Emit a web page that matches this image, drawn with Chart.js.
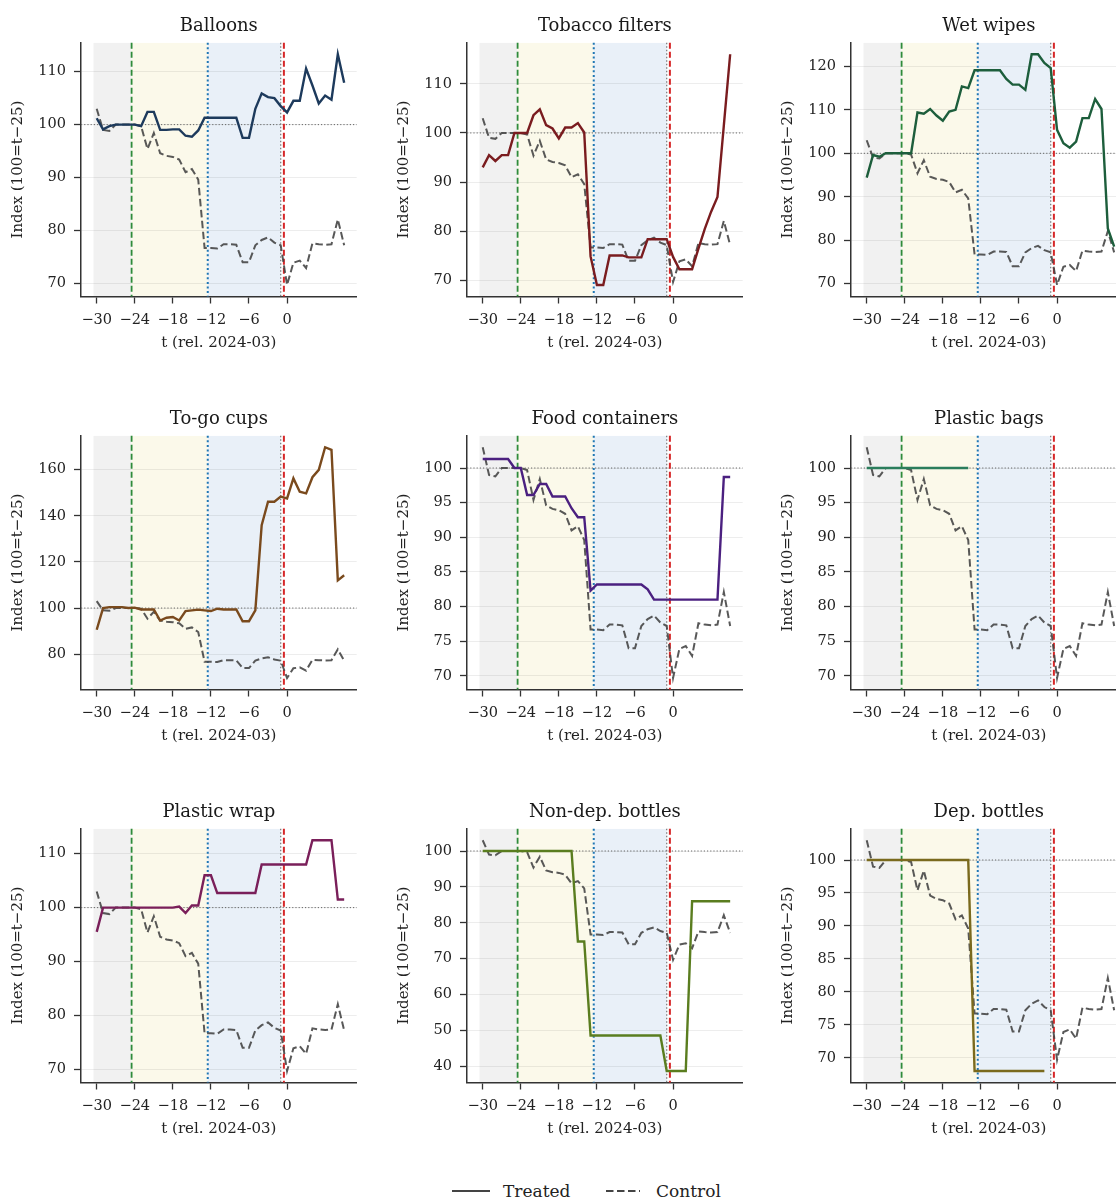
<!DOCTYPE html>
<html>
<head>
<meta charset="utf-8">
<script src="https://cdn.jsdelivr.net/npm/chart.js@4.4.1/dist/chart.umd.min.js"></script>
<style>
  html, body { margin: 0; padding: 0; background: #fff; }
  body { width: 1116px; height: 1199px; position: relative; overflow: hidden; font-family: 'DejaVu Serif', serif; color: #222; }
  canvas.panel { position: absolute; }
  .lg { position: absolute; font-size: 17px; line-height: 20px; white-space: nowrap; }
  .lg svg { position: absolute; }
</style>
</head>
<body>
<div id="panels"></div>
<div id="legend"></div>
<script>
// time axis: months relative to 2024-03
const tValues = [-30, -29, -28, -27, -26, -25, -24, -23, -22, -21,
                 -20, -19, -18, -17, -16, -15, -14, -13, -12, -11,
                 -10, -9, -8, -7, -6, -5, -4, -3, -2, -1,
                 0, 1, 2, 3, 4, 5, 6, 7, 8, 9];

const panelTitles = ['Balloons', 'Tobacco filters', 'Wet wipes', 'To-go cups', 'Food containers',
                     'Plastic bags', 'Plastic wrap', 'Non-dep. bottles', 'Dep. bottles'];

// control index, same in every panel
const controlIndex = [103.0, 99.0, 98.8, 100, 100, 100, 100, 99.7, 95.4, 98.4,
                      94.6, 94.1, 93.9, 93.4, 91.0, 91.6, 89.6, 76.7, 76.7, 76.6,
                      77.4, 77.4, 77.3, 74.0, 74.0, 77.2, 78.2, 78.7, 77.7, 77.2,
                      69.7, 73.9, 74.3, 72.9, 77.6, 77.4, 77.3, 77.4, 82.1, 77.2];

const balloons = [101.2, 99.1, 99.7, 100, 100, 100, 100, 99.7, 102.4, 102.4,
                  99.0, 99.0, 99.1, 99.1, 97.9, 97.7, 98.9, 101.3, 101.3, 101.3,
                  101.3, 101.3, 101.3, 97.5, 97.5, 103.0, 105.9, 105.2, 105.0, 103.5,
                  102.3, 104.5, 104.5, 110.6, 107.4, 104.0, 105.5, 104.7, 113.3, 107.9];

const tobaccoFilters = [93.0, 95.5, 94.3, 95.5, 95.5, 100, 100, 100, 103.6, 104.8,
                        101.6, 100.9, 98.9, 101.1, 101.1, 102.0, 100.1, 74.9, 69.1, 69.1,
                        75.1, 75.1, 75.1, 74.7, 74.7, 74.7, 78.4, 78.4, 78.4, 78.4,
                        74.8, 72.3, 72.3, 72.3, 76.5, 80.5, 84.0, 87.0, 101.5, 116.0];

const wetWipes = [94.4, 99.6, 99.2, 100, 100, 100, 100, 100, 109.4, 109.1,
                  110.2, 108.7, 107.5, 109.6, 110.0, 115.4, 115.0, 119.1, 119.1, 119.1,
                  119.1, 119.1, 117.1, 115.8, 115.8, 114.6, 122.8, 122.8, 120.8, 119.6,
                  105.4, 102.3, 101.3, 102.7, 108.1, 108.1, 112.5, 110.2, 82.7, 78.5];

const toGoCups = [90.6, 100.0, 100.4, 100.4, 100.4, 100, 100.2, 99.4, 99.4, 99.4,
                  94.6, 95.8, 96.1, 94.6, 98.7, 99.0, 99.3, 99.0, 98.7, 99.7,
                  99.4, 99.4, 99.4, 94.3, 94.3, 99.0, 135.9, 146.1, 146.1, 148.3,
                  147.5, 156.2, 150.4, 149.7, 156.7, 159.9, 169.7, 168.6, 112.0, 114.2];

const foodContainers = [101.3, 101.3, 101.3, 101.3, 101.3, 100, 100, 96.1, 96.1, 97.7,
                        97.7, 95.9, 95.9, 95.9, 94.2, 92.9, 92.9, 82.3, 83.2, 83.2,
                        83.2, 83.2, 83.2, 83.2, 83.2, 83.2, 82.5, 81.0, 81.0, 81.0,
                        81.0, 81.0, 81.0, 81.0, 81.0, 81.0, 81.0, 81.0, 98.7, 98.7];

const plasticBags = [100, 100, 100, 100, 100, 100, 100, 100, 100, 100,
                     100, 100, 100, 100, 100, 100, 100, null, null, null,
                     null, null, null, null, null, null, null, null, null, null,
                     null, null, null, null, null, null, null, null, null, null];

const plasticWrap = [95.5, 100, 100, 100, 100, 100, 100, 100, 100, 100,
                     100, 100, 100, 100.2, 99.0, 100.4, 100.4, 106.0, 106.0, 102.7,
                     102.7, 102.7, 102.7, 102.7, 102.7, 102.7, 108.0, 108.0, 108.0, 108.0,
                     108.0, 108.0, 108.0, 108.0, 112.5, 112.5, 112.5, 112.5, 101.5, 101.5];

const nonDepBottles = [100, 100, 100, 100, 100, 100, 100, 100, 100, 100,
                       100, 100, 100, 100, 100, 74.8, 74.8, 48.6, 48.6, 48.6,
                       48.6, 48.6, 48.6, 48.6, 48.6, 48.6, 48.6, 48.6, 48.6, 38.7,
                       38.7, 38.7, 38.7, 86.0, 86.0, 86.0, 86.0, 86.0, 86.0, 86.0];

const depBottles = [100, 100, 100, 100, 100, 100, 100, 100, 100, 100,
                    100, 100, 100, 100, 100, 100, 100, 68.0, 68.0, 68.0,
                    68.0, 68.0, 68.0, 68.0, 68.0, 68.0, 68.0, 68.0, 68.0, null,
                    null, null, null, null, null, null, null, null, null, null];

const treatedSeries = [balloons, tobaccoFilters, wetWipes, toGoCups, foodContainers,
                       plasticBags, plasticWrap, nonDepBottles, depBottles];

// tick labels
const xTickValues = [-30, -24, -18, -12, -6, 0];
const yTickValues = [
  [70, 80, 90, 100, 110],
  [70, 80, 90, 100, 110],
  [70, 80, 90, 100, 110, 120],
  [80, 100, 120, 140, 160],
  [70, 75, 80, 85, 90, 95, 100],
  [70, 75, 80, 85, 90, 95, 100],
  [70, 80, 90, 100, 110],
  [40, 50, 60, 70, 80, 90, 100],
  [70, 75, 80, 85, 90, 95, 100]
];

// phase boundaries (t) and event markers
const phaseEdges = [-30.5, -24.5, -12.5, -1];
const markerTimes = [-24.5, -12.5, -1, -0.5];
const baseLevel = 100;

// ---- styling ----
const treatedColors = ['#1d3a5c', '#7a1c1f', '#1d5e3c', '#7a4a1d', '#4b2080',
                       '#2a7d5c', '#7a1f5a', '#5a7d1f', '#7a6a1d'];
const phaseFills = ['#f1f1f1', '#fbf9ea', '#e9f0f8'];
const markerStyles = [
  { color: '#2e8b3a', dash: [6, 3], width: 1.8 },
  { color: '#1f77b4', dash: [2, 2.6], width: 2 },
  { color: '#777777', dash: [1.5, 2], width: 1.2 },
  { color: '#d62728', dash: [6, 3], width: 2 }
];

Chart.defaults.font.family = "'DejaVu Serif', serif";
Chart.defaults.color = '#222';

const fmt = v => String(v).replace('-', '\u2212');

const phasePlugin = {
  id: 'phases',
  beforeDraw(chart) {
    const { ctx, chartArea: a, scales: { x } } = chart;
    ctx.save();
    ctx.beginPath();
    ctx.rect(a.left, a.top, a.width, a.height);
    ctx.clip();
    for (let i = 0; i < phaseFills.length; i++) {
      const x0 = x.getPixelForValue(phaseEdges[i]);
      const x1 = x.getPixelForValue(phaseEdges[i + 1]);
      ctx.fillStyle = phaseFills[i];
      ctx.fillRect(x0, a.top, x1 - x0, a.height);
    }
    ctx.restore();
  },
  beforeDatasetsDraw(chart) {
    const { ctx, chartArea: a, scales: { x, y } } = chart;
    ctx.save();
    // horizontal reference at the base level
    const yb = y.getPixelForValue(baseLevel);
    ctx.strokeStyle = '#666';
    ctx.lineWidth = 1;
    ctx.setLineDash([1.2, 2]);
    ctx.beginPath();
    ctx.moveTo(a.left, yb);
    ctx.lineTo(a.right, yb);
    ctx.stroke();
    markerTimes.forEach((t, i) => {
      const s = markerStyles[i];
      const px = x.getPixelForValue(t);
      ctx.strokeStyle = s.color;
      ctx.lineWidth = s.width;
      ctx.setLineDash(s.dash);
      ctx.beginPath();
      ctx.moveTo(px, a.top);
      ctx.lineTo(px, a.bottom);
      ctx.stroke();
    });
    ctx.restore();
  },
  // panel title centred over the plot area, like matplotlib's ax.set_title
  afterDraw(chart, args, opts) {
    const { ctx, chartArea: a } = chart;
    ctx.save();
    ctx.font = "18px 'DejaVu Serif', serif";
    ctx.fillStyle = '#1a1a1a';
    ctx.textAlign = 'center';
    ctx.textBaseline = 'alphabetic';
    ctx.fillText(opts.text, (a.left + a.right) / 2, a.top - 11.5);
    ctx.restore();
  }
};

// x range: data + spans with 5% margin (matplotlib style)
const xLo = Math.min(phaseEdges[0], tValues[0]);
const xHi = tValues[tValues.length - 1];
const xMin = xLo - (xHi - xLo) * 0.05;
const xMax = xHi + (xHi - xLo) * 0.05;

const colLeft = [0, 386, 770];
const rowTop = [0, 393, 786];

const holder = document.getElementById('panels');

treatedSeries.forEach((series, k) => {
  const canvas = document.createElement('canvas');
  canvas.className = 'panel';
  canvas.width = 360;
  canvas.height = 353;
  canvas.style.left = colLeft[k % 3] + 'px';
  canvas.style.top = rowTop[Math.floor(k / 3)] + 'px';
  canvas.style.width = '360px';
  canvas.style.height = '353px';
  holder.appendChild(canvas);

  const vals = series.concat(controlIndex).filter(v => v !== null);
  const lo = Math.min(...vals), hi = Math.max(...vals);
  const pad = (hi - lo) * 0.05;
  const ticksY = yTickValues[k];

  new Chart(canvas, {
    type: 'line',
    data: {
      datasets: [
        {
          label: 'Treated',
          data: tValues.map((t, i) => ({ x: t, y: series[i] })),
          borderColor: treatedColors[k],
          borderWidth: 2.4,
          pointRadius: 0,
          spanGaps: false,
          tension: 0
        },
        {
          label: 'Control',
          data: tValues.map((t, i) => ({ x: t, y: controlIndex[i] })),
          borderColor: 'rgba(70,70,70,0.9)',
          borderWidth: 2,
          borderDash: [7.5, 3.5],
          pointRadius: 0,
          tension: 0
        }
      ]
    },
    options: {
      responsive: false,
      animation: false,
      events: [],
      layout: { padding: { top: 42.7, left: 0, right: 3.3, bottom: 0 } },
      plugins: {
        legend: { display: false },
        tooltip: { enabled: false },
        title: { display: false },
        phases: { text: panelTitles[k] }
      },
      scales: {
        x: {
          type: 'linear',
          bounds: 'data',
          min: xMin,
          max: xMax,
          afterBuildTicks: s => { s.ticks = xTickValues.map(v => ({ value: v })); },
          afterFit: s => { s.height = 56.5; },
          grid: { drawOnChartArea: false, drawTicks: true, tickLength: 7, tickColor: '#333', tickWidth: 1.3 },
          border: { display: true, color: '#333', width: 1.5 },
          ticks: { color: '#222', font: { size: 14.5 }, padding: 7.8, maxRotation: 0, autoSkip: false, callback: v => fmt(v) },
          title: { display: true, text: 't (rel. 2024-03)', color: '#222', font: { size: 15 }, padding: { top: 0, bottom: 0.4 } }
        },
        y: {
          type: 'linear',
          bounds: 'data',
          min: lo - pad,
          max: hi + pad,
          afterBuildTicks: s => { s.ticks = ticksY.map(v => ({ value: v })); },
          afterFit: s => { s.width = 81; },
          grid: { color: 'rgba(0,0,0,0.07)', lineWidth: 1, tickColor: '#333', tickLength: 7, tickWidth: 1.3 },
          border: { display: true, color: '#333', width: 1.5 },
          ticks: { color: '#222', font: { size: 14.5 }, padding: 8, autoSkip: false, callback: v => fmt(v) },
          title: { display: true, text: 'Index (100=t\u221225)', color: '#222', font: { size: 15 }, padding: { top: 9.5, bottom: 0 } }
        }
      }
    },
    plugins: [phasePlugin]
  });
});

// figure legend
const legend = document.getElementById('legend');
legend.innerHTML =
  '<div class="lg" style="left:452px;top:1181px;width:140px;height:20px">' +
    '<svg width="38" height="20" style="left:0;top:0"><line x1="0" y1="10" x2="38" y2="10" stroke="#444" stroke-width="2.2"/></svg>' +
    '<span style="position:absolute;left:51px;top:0">Treated</span></div>' +
  '<div class="lg" style="left:606px;top:1181px;width:140px;height:20px">' +
    '<svg width="34" height="20" style="left:0;top:0"><line x1="0" y1="10" x2="34" y2="10" stroke="#444" stroke-width="2" stroke-dasharray="7.5,3.5"/></svg>' +
    '<span style="position:absolute;left:50px;top:0">Control</span></div>';
</script>
</body>
</html>
